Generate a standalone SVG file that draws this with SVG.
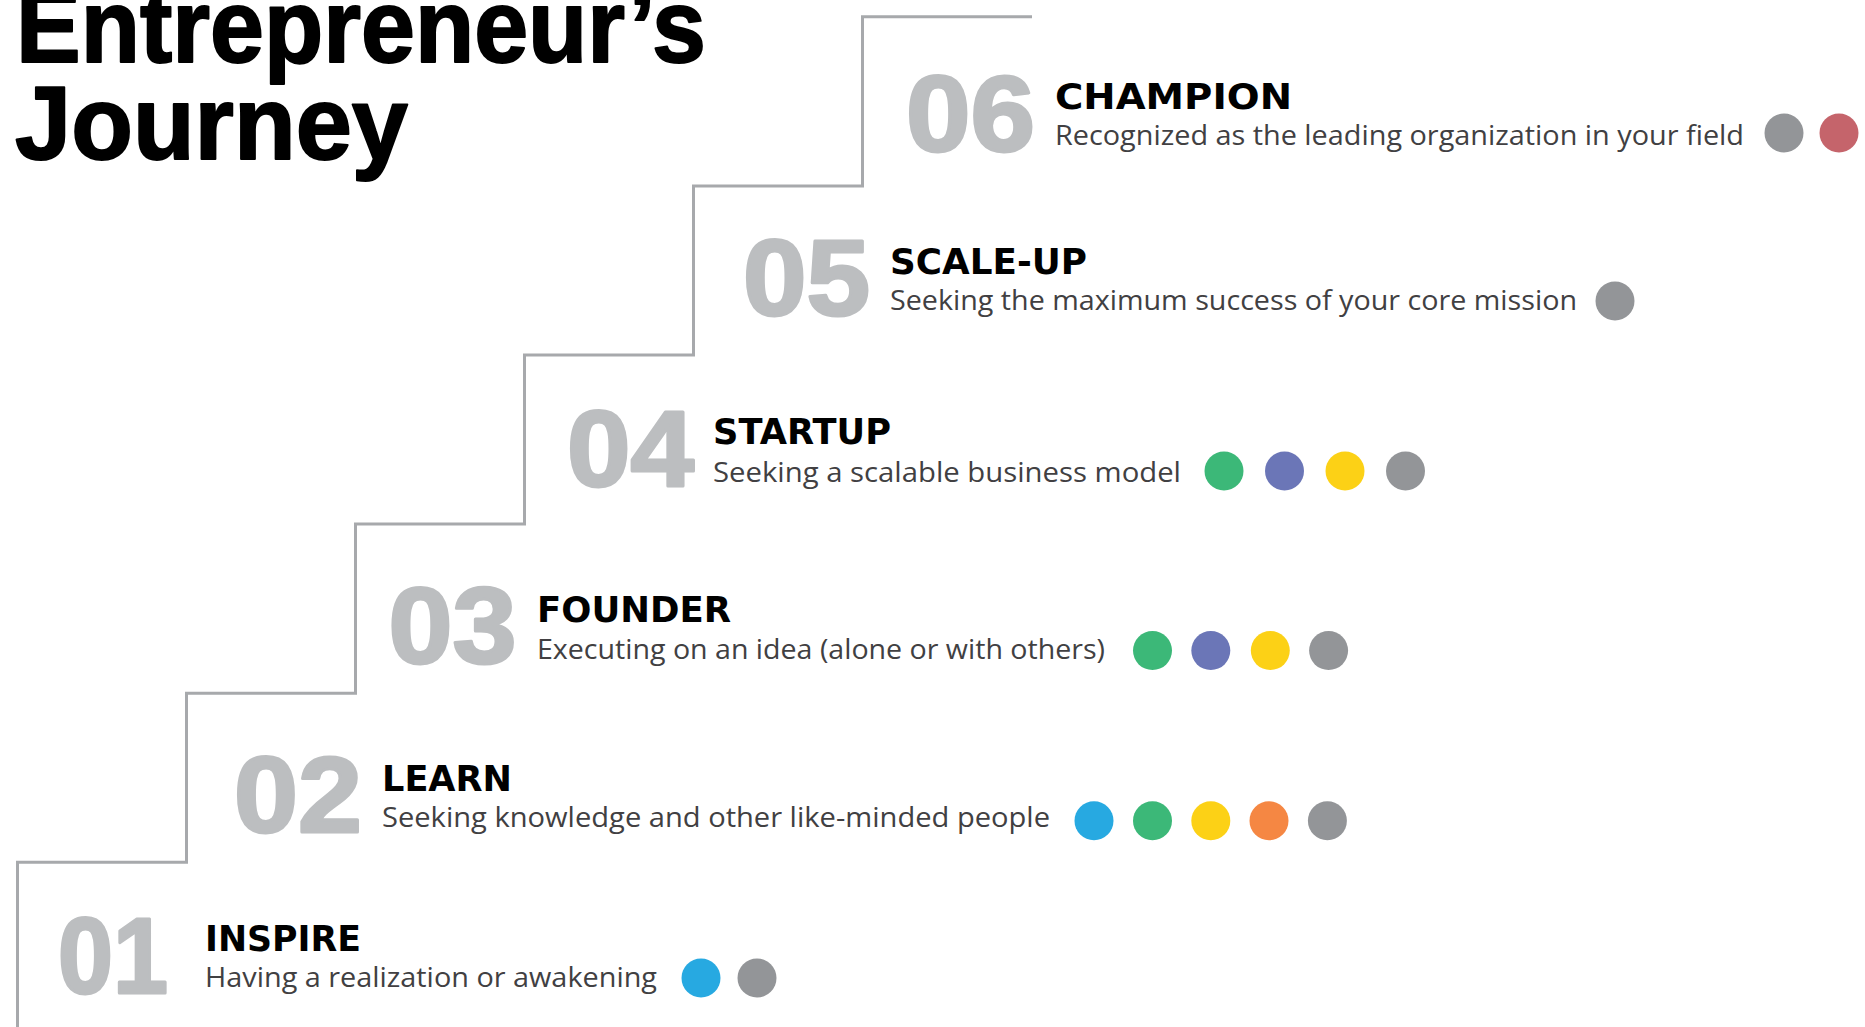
<svg xmlns="http://www.w3.org/2000/svg" width="1865" height="1027" viewBox="0 0 1865 1027">
  <style>
    .num { font-family: "Liberation Sans", Arial, sans-serif; font-weight: bold; font-size: 107px; fill: #BCBEC0; stroke: #BCBEC0; stroke-width: 3; stroke-linejoin: round; }
    .ttl { font-family: "DejaVu Sans", "Liberation Sans", sans-serif; font-weight: bold; font-size: 36px; fill: #000; }
    .dsc { font-family: "Open Sans", "Liberation Sans", sans-serif; font-size: 28px; fill: #414042; }
    .head { font-family: "Liberation Sans", Arial, sans-serif; font-weight: bold; font-size: 103px; fill: #000; stroke: #000; stroke-width: 2; stroke-linejoin: round; }
    .stair { fill: none; stroke: #A7A9AC; stroke-width: 3; }
    .gray { fill: #939598; }
    .red { fill: #C5646B; }
    .blue { fill: #27A9E1; }
    .green { fill: #3CB878; }
    .purple { fill: #6B76B7; }
    .yellow { fill: #FCD116; }
    .orange { fill: #F58743; }
  </style>
  <rect width="1865" height="1027" fill="#FFFFFF"/>

  <g id="title">
    <text class="head" x="16" y="62" textLength="690" lengthAdjust="spacingAndGlyphs">Entrepreneur’s</text>
    <text class="head" x="15" y="159" textLength="393" lengthAdjust="spacingAndGlyphs">Journey</text>
  </g>

  <g id="connectors">
    <path class="stair" d="M17.5 1027 V862.3 H186.5 V693.2 H355.5 V524.1 H524.5 V355 H693.5 V185.9 H862.5 V16.8 H1032"/>
  </g>

  <g id="step-01">
    <text class="num" x="58" y="993" textLength="110" lengthAdjust="spacingAndGlyphs">01</text>
    <text class="ttl" x="205" y="951" textLength="156" lengthAdjust="spacingAndGlyphs">INSPIRE</text>
    <text class="dsc" x="205" y="987" textLength="452" lengthAdjust="spacingAndGlyphs">Having a realization or awakening</text>
    <circle class="blue" cx="701" cy="978" r="19.5"/>
    <circle class="gray" cx="757" cy="978" r="19.5"/>
  </g>

  <g id="step-02">
    <text class="num" x="234" y="832" textLength="128" lengthAdjust="spacingAndGlyphs">02</text>
    <text class="ttl" x="382" y="791" textLength="130" lengthAdjust="spacingAndGlyphs">LEARN</text>
    <text class="dsc" x="382" y="827" textLength="668" lengthAdjust="spacingAndGlyphs">Seeking knowledge and other like-minded people</text>
    <circle class="blue" cx="1094" cy="820.7" r="19.5"/>
    <circle class="green" cx="1152.5" cy="820.7" r="19.5"/>
    <circle class="yellow" cx="1210.8" cy="820.7" r="19.5"/>
    <circle class="orange" cx="1269" cy="820.7" r="19.5"/>
    <circle class="gray" cx="1327.4" cy="820.7" r="19.5"/>
  </g>

  <g id="step-03">
    <text class="num" x="388.5" y="663" textLength="128" lengthAdjust="spacingAndGlyphs">03</text>
    <text class="ttl" x="537" y="622" textLength="194" lengthAdjust="spacingAndGlyphs">FOUNDER</text>
    <text class="dsc" x="537" y="659" textLength="568" lengthAdjust="spacingAndGlyphs">Executing on an idea (alone or with others)</text>
    <circle class="green" cx="1152.5" cy="650.6" r="19.5"/>
    <circle class="purple" cx="1210.8" cy="650.6" r="19.5"/>
    <circle class="yellow" cx="1270.3" cy="650.6" r="19.5"/>
    <circle class="gray" cx="1328.6" cy="650.6" r="19.5"/>
  </g>

  <g id="step-04">
    <text class="num" x="567" y="486" textLength="127" lengthAdjust="spacingAndGlyphs">04</text>
    <text class="ttl" x="713" y="443.5" textLength="178" lengthAdjust="spacingAndGlyphs">STARTUP</text>
    <text class="dsc" x="713" y="481.5" textLength="468" lengthAdjust="spacingAndGlyphs">Seeking a scalable business model</text>
    <circle class="green" cx="1224" cy="471" r="19.5"/>
    <circle class="purple" cx="1284.5" cy="471" r="19.5"/>
    <circle class="yellow" cx="1345" cy="471" r="19.5"/>
    <circle class="gray" cx="1405.5" cy="471" r="19.5"/>
  </g>

  <g id="step-05">
    <text class="num" x="743" y="314.5" textLength="127" lengthAdjust="spacingAndGlyphs">05</text>
    <text class="ttl" x="890" y="273.6" textLength="197" lengthAdjust="spacingAndGlyphs">SCALE-UP</text>
    <text class="dsc" x="890" y="310.4" textLength="687" lengthAdjust="spacingAndGlyphs">Seeking the maximum success of your core mission</text>
    <circle class="gray" cx="1615" cy="301" r="19.5"/>
  </g>

  <g id="step-06">
    <text class="num" x="906" y="151" textLength="129" lengthAdjust="spacingAndGlyphs">06</text>
    <text class="ttl" x="1055" y="108.5" textLength="237" lengthAdjust="spacingAndGlyphs">CHAMPION</text>
    <text class="dsc" x="1055" y="144.5" textLength="689" lengthAdjust="spacingAndGlyphs">Recognized as the leading organization in your field</text>
    <circle class="gray" cx="1784" cy="133" r="19.5"/>
    <circle class="red" cx="1839" cy="133" r="19.5"/>
  </g>
</svg>
